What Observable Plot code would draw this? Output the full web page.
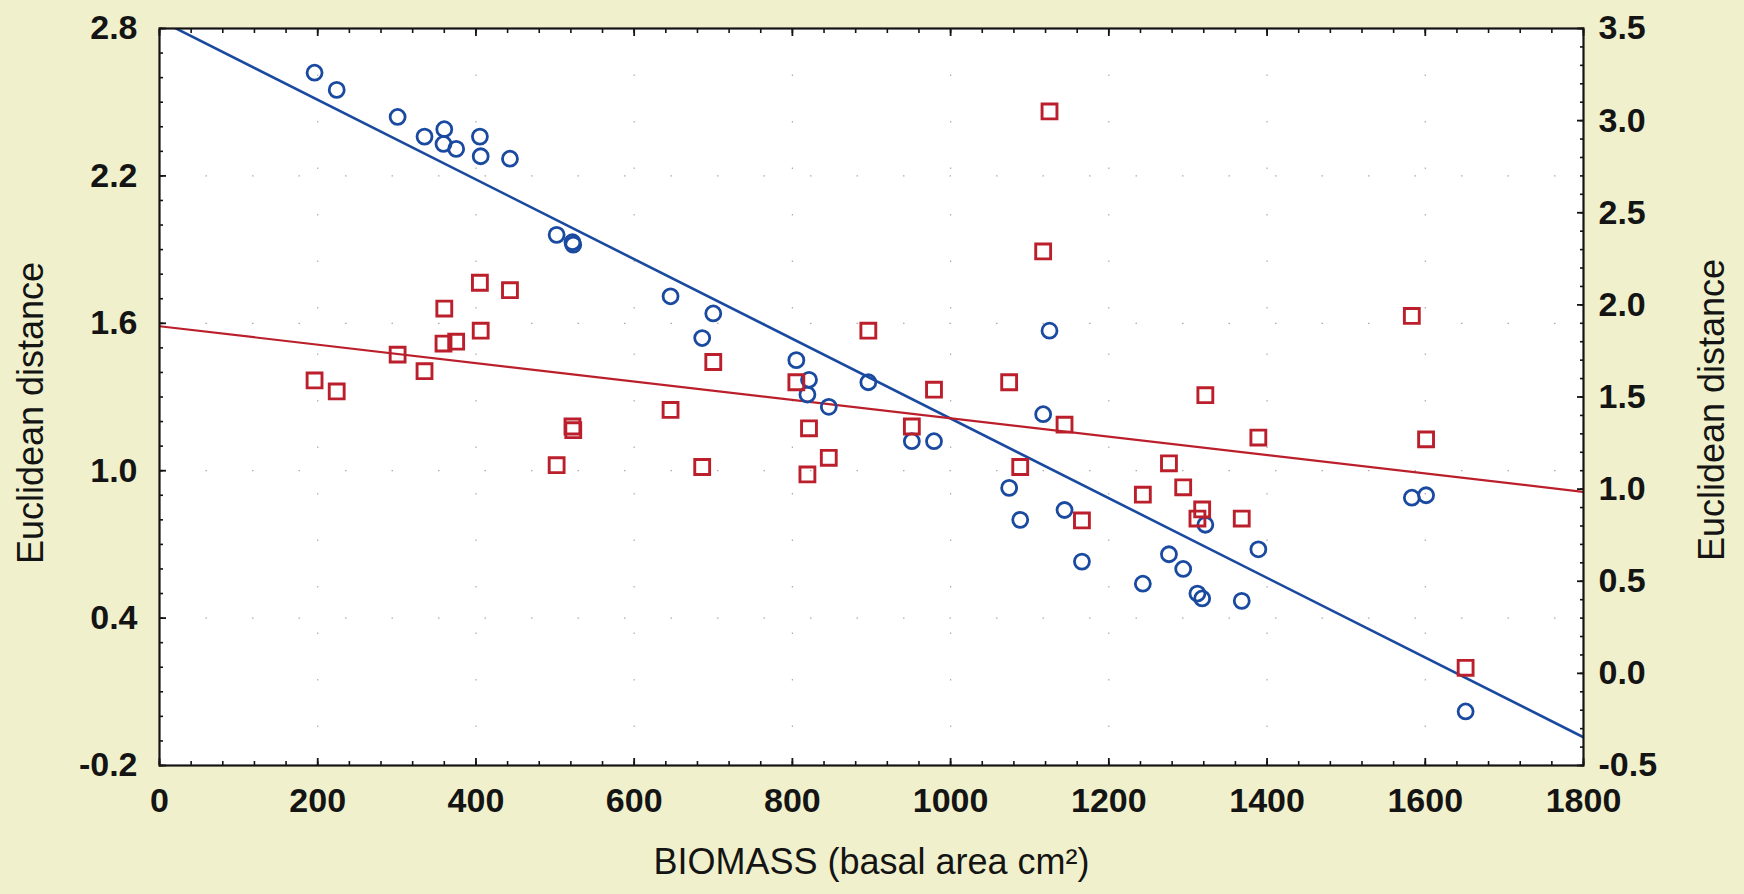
<!DOCTYPE html>
<html><head><meta charset="utf-8">
<script src="https://cdn.jsdelivr.net/npm/d3@7"></script>
<script src="https://cdn.jsdelivr.net/npm/@observablehq/plot@0.6"></script>
<style>
html,body{margin:0;padding:0;background:#f0f1cc;}
#chart svg{display:block;}
</style></head><body><div id="chart"></div>
<script>
// Biomass (basal area cm²) of each site
const biomass = [196,224,301,335,360,359,375,405,406,443,502,522,523,646,686,700,805,819,821,846,896,951,979,1074,1088,1117,1125,1144,1166,1243,1276,1294,1312,1318,1322,1368,1389,1583,1601,1651];
// Euclidean distance, circles (left axis)
const distCircles = [2.62,2.55,2.44,2.36,2.39,2.33,2.31,2.36,2.28,2.27,1.96,1.93,1.92,1.71,1.54,1.64,1.45,1.31,1.37,1.26,1.36,1.12,1.12,0.93,0.80,1.23,1.57,0.84,0.63,0.54,0.66,0.60,0.50,0.48,0.78,0.47,0.68,0.89,0.90,0.02];
// Euclidean distance, squares (right axis)
const distSquares = [1.59,1.53,1.73,1.64,1.98,1.79,1.80,2.12,1.86,2.08,1.13,1.34,1.32,1.43,1.12,1.69,1.58,1.08,1.33,1.17,1.86,1.34,1.54,1.58,1.12,2.29,3.05,1.35,0.83,0.97,1.14,1.01,0.84,0.89,1.51,0.84,1.28,1.94,1.27,0.03];
// Fitted lines read at the ends of the x range
const fitX = [0, 1800];
const fitCircles = [2.834, -0.085];
const fitSquares = [1.884, 0.985];
// Ticks
const xTicks = [0,200,400,600,800,1000,1200,1400,1600,1800];
const yLeftTicks = [-0.2,0.4,1.0,1.6,2.2,2.8];
const yRightTicks = [-0.5,0.0,0.5,1.0,1.5,2.0,2.5,3.0,3.5];
const xTitle = "BIOMASS (basal area cm²)";
const yTitle = "Euclidean distance";

const leftDomain = [yLeftTicks[0], yLeftTicks[yLeftTicks.length-1]];
const rightDomain = [yRightTicks[0], yRightTicks[yRightTicks.length-1]];
const k = (leftDomain[1]-leftDomain[0])/(rightDomain[1]-rightDomain[0]);
const toLeft = r => leftDomain[0] + (r - rightDomain[0]) * k;
const fromLeft = v => rightDomain[0] + (v - leftDomain[0]) / k;
const fmt1 = v => { const r = Math.round(v*10)/10; return (r === 0 ? 0 : r).toFixed(1); };

const xMinor = d3.range(0, 1800.001, 40);
const yLeftMinor = d3.range(0, 31).map(i => leftDomain[0] + i*0.1);
const yRightMinor = d3.range(0, 41).map(i => toLeft(rightDomain[0] + i*0.1));

const sites = biomass.map((b,i) => ({b, c: distCircles[i], s: distSquares[i]}));
const fit = fitX.map((x,i) => ({x, c: fitCircles[i], s: fitSquares[i]}));

const blue = "#1a4aa0", red = "#bb1f2b", ink = "#141414";
const noText = () => "";

const chart = Plot.plot({
  width: 1744, height: 894,
  marginLeft: 159, marginRight: 161, marginTop: 28, marginBottom: 129,
  style: {background: "#f0f1cc", fontFamily: "'Liberation Sans', Arial, sans-serif", color: ink},
  x: {domain: [0, 1800]},
  y: {domain: leftDomain},
  marks: [
    Plot.frame({fill: "white", stroke: "none"}),
    Plot.gridX({ticks: xTicks.slice(1,-1), stroke: "#666", strokeOpacity: 0.55, strokeWidth: 1.2, strokeDasharray: "1.5,45"}),
    Plot.gridY({ticks: yLeftTicks.slice(1,-1), stroke: "#666", strokeOpacity: 0.55, strokeWidth: 1.2, strokeDasharray: "1.5,45"}),
    Plot.line(fit, {x: "x", y: "c", stroke: blue, strokeWidth: 2.6, clip: true}),
    Plot.line(fit, {x: "x", y: d => toLeft(d.s), stroke: red, strokeWidth: 2.2, clip: true}),
    Plot.dot(sites, {x: "b", y: "c", r: 7.5, stroke: blue, strokeWidth: 2.8}),
    Plot.dot(sites, {x: "b", y: d => toLeft(d.s), symbol: "square", r: 8.4, stroke: red, strokeWidth: 2.9}),
    Plot.frame({stroke: ink, strokeWidth: 2.2}),
    // inward tick marks on all four sides
    Plot.axisX({anchor: "bottom", ticks: xMinor, tickSize: -4, tickFormat: noText, label: null, strokeWidth: 1.6}),
    Plot.axisX({anchor: "bottom", ticks: xTicks, tickSize: -7, tickFormat: noText, label: null, strokeWidth: 1.8}),
    Plot.axisX({anchor: "top", ticks: xMinor, tickSize: -4, tickFormat: noText, label: null, strokeWidth: 1.6}),
    Plot.axisX({anchor: "top", ticks: xTicks, tickSize: -7, tickFormat: noText, label: null, strokeWidth: 1.8}),
    Plot.axisY({anchor: "left", ticks: yLeftMinor, tickSize: -4, tickFormat: noText, label: null, strokeWidth: 1.6}),
    Plot.axisY({anchor: "left", ticks: yLeftTicks, tickSize: -7, tickFormat: noText, label: null, strokeWidth: 1.8}),
    Plot.axisY({anchor: "right", ticks: yRightMinor, tickSize: -4, tickFormat: noText, label: null, strokeWidth: 1.6}),
    Plot.axisY({anchor: "right", ticks: yRightTicks.map(toLeft), tickSize: -7, tickFormat: noText, label: null, strokeWidth: 1.8}),
    // tick labels
    Plot.axisX({anchor: "bottom", ticks: xTicks, tickSize: 0, tickPadding: 22, fontSize: 34, fontWeight: "bold", tickFormat: d => String(d), label: null}),
    Plot.axisY({anchor: "left", ticks: yLeftTicks, tickSize: 0, tickPadding: 22, fontSize: 34, fontWeight: "bold", tickFormat: fmt1, label: null}),
    Plot.axisY({anchor: "right", ticks: yRightTicks.map(toLeft), tickSize: 0, tickPadding: 15, fontSize: 34, fontWeight: "bold", tickFormat: d => fmt1(fromLeft(d)), label: null}),
    // axis titles
    Plot.text([xTitle], {text: d => d, frameAnchor: "bottom", textAnchor: "middle", dy: 108, fontSize: 36, fill: ink}),
    Plot.text([yTitle], {text: d => d, frameAnchor: "left", textAnchor: "middle", dx: -128, dy: 16, rotate: -90, fontSize: 36, fill: ink}),
    Plot.text([yTitle], {text: d => d, frameAnchor: "right", textAnchor: "middle", dx: 129, dy: 13, rotate: -90, fontSize: 36, fill: ink})
  ]
});
document.getElementById("chart").appendChild(chart);
</script>
</body></html>
